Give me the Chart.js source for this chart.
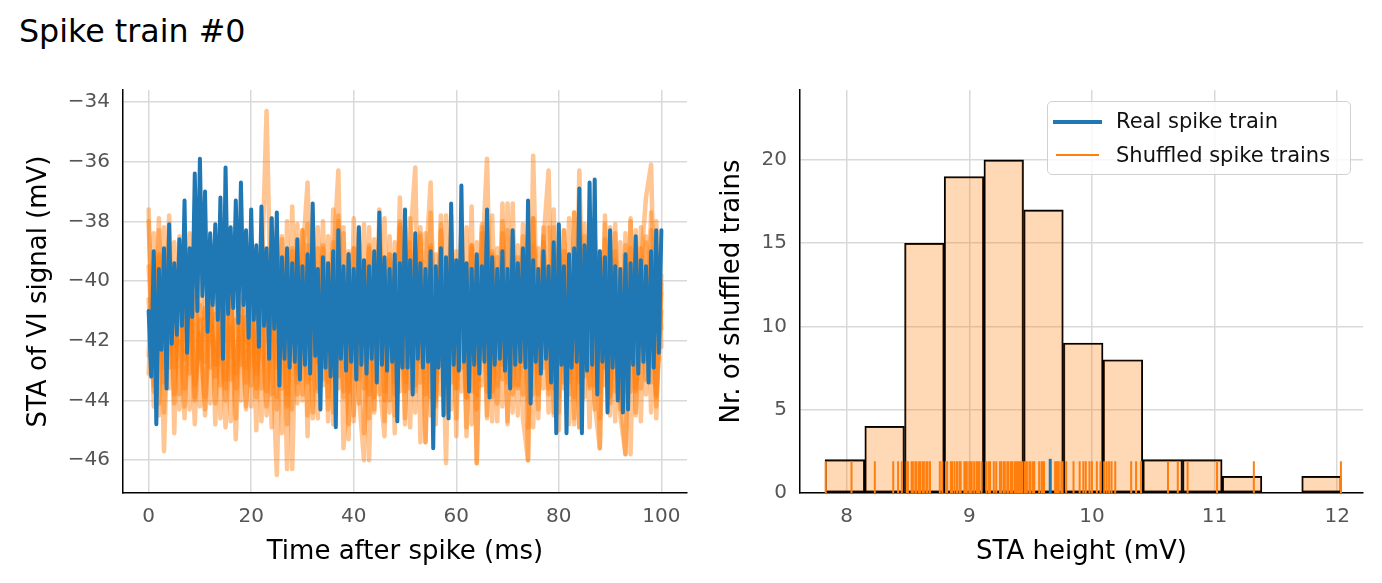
<!DOCTYPE html>
<html>
<head>
<meta charset="utf-8">
<script src="https://cdn.jsdelivr.net/npm/chart.js@4.4.0/dist/chart.umd.min.js"></script>
<style>
body { margin: 0; background: #fff; font-family: 'DejaVu Sans', sans-serif; }
#wrap { position: relative; width: 1382px; height: 583px; overflow: hidden; }
canvas { position: absolute; top: 0; }
#title { position: absolute; left: 19px; top: 16px; font-size: 31.7px; line-height: 1; color: #000; white-space: nowrap; }
#legendBox { position: absolute; left: 1047px; top: 101px; width: 302px; height: 72px; border: 1.5px solid #d0d0d0; border-radius: 5px; background: rgba(255,255,255,0.8); }
.lgText { position: absolute; font-size: 21px; line-height: 1; color: #111; white-space: nowrap; }
.lgLine { position: absolute; }
</style>
</head>
<body>
<div id="wrap">
  <div id="title">Spike train #0</div>
  <canvas id="left" width="700" height="583" style="left:0"></canvas>
  <canvas id="right" width="682" height="583" style="left:700px"></canvas>
  <div id="legendBox"></div>
  <div class="lgLine" style="left:1053px;top:120px;width:49px;height:4px;background:#1f77b4"></div>
  <div class="lgText" style="left:1116px;top:111px">Real spike train</div>
  <div class="lgLine" style="left:1056px;top:154px;width:43px;height:2px;background:#ff7f0e"></div>
  <div class="lgText" style="left:1116px;top:145px">Shuffled spike trains</div>
</div>
<script>
// tick values
const timeTicks = [0, 20, 40, 60, 80, 100]
const staTicks = [-34, -36, -38, -40, -42, -44, -46]
const heightTicks = [8, 9, 10, 11, 12]
const countTicks = [0, 5, 10, 15, 20]

// STA of the real spike train, one value every 0.5 ms (0..100 ms)
const realSta = [
 -41.0, -43.2, -39.0, -44.8, -39.6, -42.3, -38.9, -43.6, -38.1, -42.1,
 -39.4, -41.8, -38.6, -41.5, -37.3, -42.4, -38.9, -41.2, -36.4, -41.0,
 -35.9, -40.5, -37.0, -41.7, -38.4, -40.8, -38.1, -41.3, -37.2, -42.6,
 -36.2, -41.1, -38.2, -40.9, -37.3, -41.4, -36.7, -40.8, -38.3, -41.9,
 -37.6, -41.3, -38.8, -42.2, -37.5, -41.5, -38.9, -42.6, -37.9, -41.6,
 -37.7, -43.5, -39.2, -42.6, -38.9, -42.9, -39.4, -42.7, -38.6, -43.3,
 -39.5, -42.8, -39.1, -43.1, -37.4, -42.5, -39.6, -44.3, -39.2, -42.9,
 -39.4, -43.2, -39.0, -44.9, -38.3, -42.6, -39.5, -43.0, -39.1, -42.7,
 -39.6, -43.3, -38.2, -42.8, -39.3, -43.1, -39.5, -42.6, -39.0, -43.4,
 -37.7, -42.8, -39.2, -43.0, -39.6, -42.7, -39.1, -44.7, -39.4, -42.9,
 -37.6, -42.9, -39.3, -43.8, -38.4, -42.6, -39.4, -42.9, -39.6, -42.7,
 -39.0, -45.6, -39.5, -42.9, -38.9, -44.5, -39.2, -44.6, -37.4, -42.8,
 -39.3, -43.0, -36.8, -42.7, -39.4, -43.7, -39.6, -42.8, -39.1, -43.1,
 -39.5, -42.7, -37.6, -43.9, -39.2, -42.8, -39.6, -42.6, -39.0, -43.0,
 -39.6, -43.6, -38.3, -42.8, -39.4, -42.7, -38.9, -42.9, -37.3, -44.1,
 -39.3, -42.7, -39.6, -43.1, -39.0, -42.6, -39.5, -43.4, -38.7, -45.1,
 -38.1, -42.8, -39.5, -45.1, -39.1, -42.9, -38.9, -42.7, -36.9, -45.1,
 -38.8, -43.0, -36.7, -42.8, -36.6, -43.8, -39.0, -42.7, -39.2, -44.4,
 -38.3, -42.9, -39.5, -44.0, -39.6, -44.4, -39.1, -44.3, -39.4, -42.8,
 -38.5, -43.1, -39.3, -42.7, -39.5, -43.4, -39.0, -42.9, -38.3, -42.4,
 -38.3
]

// STA of some shuffled trains, one value every 1 ms (0..100 ms)
const shuffled1 = [
 -38.0, -43.5, -39.2, -45.7, -40.1, -43.8, -39.6, -44.2, -40.4, -44.8,
 -40.8, -43.9, -39.9, -44.1, -41.0, -43.6, -40.2, -45.3, -40.6, -43.4,
 -39.8, -43.9, -40.3, -34.3, -42.1, -46.5, -39.7, -44.2, -38.9, -43.1,
 -39.3, -36.7, -42.8, -44.6, -38.8, -43.4, -39.5, -36.3, -45.6, -43.2,
 -38.9, -44.1, -39.4, -46.0, -38.6, -43.3, -45.2, -39.1, -43.8, -37.2,
 -43.4, -38.7, -36.2, -45.4, -39.6, -36.7, -43.9, -39.3, -46.1, -38.4,
 -43.6, -39.1, -45.2, -38.8, -46.1, -39.6, -35.9, -43.7, -38.9, -44.2,
 -37.4, -43.8, -39.2, -44.6, -46.0, -35.8, -43.1, -38.7, -36.3, -44.4,
 -38.9, -43.6, -39.4, -44.8, -36.3, -43.2, -39.0, -44.1, -45.6, -38.6,
 -43.8, -39.3, -44.5, -45.8, -38.9, -43.7, -39.5, -37.2, -36.1, -43.9,
 -40.1
]
const shuffled2 = [
 -42.5, -38.4, -44.1, -39.1, -43.6, -38.7, -44.3, -40.2, -43.1, -39.8,
 -44.2, -40.6, -42.9, -39.5, -44.6, -40.1, -43.3, -39.9, -44.0, -41.2,
 -43.5, -40.3, -44.7, -39.2, -43.8, -39.2, -45.1, -38.0, -46.3, -39.3,
 -43.8, -38.1, -44.4, -38.9, -43.3, -38.5, -44.8, -37.8, -43.7, -39.0,
 -44.5, -38.2, -45.1, -38.8, -43.9, -38.4, -44.7, -39.1, -43.4, -38.0,
 -44.8, -38.7, -43.7, -38.2, -45.4, -38.9, -44.0, -37.8, -44.4, -39.2,
 -43.6, -38.3, -44.9, -38.8, -43.8, -38.1, -44.5, -39.0, -44.1, -37.4,
 -44.7, -38.5, -43.5, -39.1, -44.9, -37.9, -43.8, -38.7, -44.4, -38.2,
 -43.9, -39.0, -44.8, -37.7, -43.4, -38.9, -44.9, -38.4, -43.7, -39.2,
 -44.5, -38.1, -44.0, -38.8, -45.8, -38.3, -43.6, -38.7, -44.4, -38.0,
 -42.2
]
const shuffled3 = [
 -39.5, -42.8, -37.9, -43.4, -38.6, -44.1, -39.3, -42.6, -38.4, -43.9,
 -41.3, -44.5, -40.7, -43.2, -41.6, -44.0, -40.5, -43.6, -41.2, -44.3,
 -40.6, -43.1, -41.4, -44.2, -39.4, -43.9, -38.5, -44.8, -39.0, -43.4,
 -38.3, -44.5, -39.2, -43.7, -38.0, -44.3, -38.7, -43.6, -38.2, -44.8,
 -38.9, -43.3, -38.1, -44.6, -39.3, -43.8, -37.9, -44.4, -38.7, -43.7,
 -38.2, -44.9, -38.9, -43.4, -38.4, -44.5, -39.1, -43.8, -37.8, -44.3,
 -39.0, -43.7, -38.2, -44.8, -38.7, -43.5, -38.0, -44.7, -39.2, -43.3,
 -38.3, -44.4, -38.8, -43.8, -38.1, -44.9, -38.9, -43.6, -38.2, -44.5,
 -39.1, -43.4, -37.9, -44.6, -38.8, -43.9, -38.4, -44.3, -39.0, -43.5,
 -38.2, -44.7, -38.7, -43.7, -38.0, -44.4, -38.9, -43.8, -38.3, -44.2,
 -40.4
]
const shuffled4 = [
 -43.1, -39.4, -44.5, -38.2, -42.9, -40.1, -43.8, -39.7, -44.3, -40.5,
 -42.6, -40.9, -44.1, -41.1, -43.5, -40.4, -44.7, -41.3, -42.8, -40.2,
 -44.2, -40.8, -43.6, -39.9, -44.9, -38.3, -43.6, -39.2, -44.3, -38.1,
 -44.0, -38.8, -44.6, -38.2, -43.5, -39.4, -44.4, -38.0, -43.9, -39.1,
 -44.7, -38.4, -43.6, -38.9, -44.3, -38.1, -44.0, -39.3, -44.5, -38.2,
 -43.7, -39.0, -44.4, -38.5, -43.8, -38.8, -44.8, -38.1, -43.5, -39.4,
 -44.6, -38.2, -43.9, -38.9, -44.3, -38.4, -43.7, -39.1, -44.7, -38.0,
 -43.4, -39.2, -44.5, -38.5, -44.0, -38.8, -44.6, -38.2, -43.6, -39.0,
 -44.4, -38.3, -43.8, -39.1, -44.9, -38.5, -43.5, -38.8, -44.6, -38.1,
 -43.9, -39.0, -44.3, -38.4, -43.7, -39.2, -44.7, -38.5, -43.4, -39.1,
 -41.6
]
const shuffled5 = [
 -37.6, -44.2, -38.3, -42.9, -37.8, -45.1, -38.5, -43.6, -39.2, -44.0,
 -39.8, -42.7, -38.9, -44.8, -39.5, -43.3, -40.1, -44.6, -38.7, -42.9,
 -39.4, -45.0, -38.2, -43.7, -37.9, -44.3, -38.6, -46.3, -37.5, -43.8,
 -38.3, -45.2, -37.8, -43.6, -38.9, -44.7, -37.6, -43.2, -38.4, -45.3,
 -37.9, -43.8, -46.0, -38.2, -44.4, -37.6, -43.7, -38.5, -45.1, -38.1,
 -44.6, -37.9, -43.5, -38.4, -45.4, -37.7, -44.2, -38.3, -43.4, -37.8,
 -45.2, -38.6, -43.9, -37.5, -46.1, -38.2, -44.6, -37.8, -43.5, -38.4,
 -44.8, -37.4, -43.6, -38.1, -46.0, -37.9, -44.3, -38.5, -43.8, -37.6,
 -45.0, -38.3, -43.4, -37.7, -44.9, -38.1, -43.6, -38.6, -45.6, -37.8,
 -44.1, -38.4, -43.7, -45.8, -37.9, -44.5, -38.2, -43.3, -37.7, -44.6,
 -39.8
]
const shuffled6 = [
 -40.6, -43.7, -39.1, -44.4, -40.8, -42.9, -41.2, -44.6, -40.3, -43.5,
 -41.8, -44.3, -41.1, -42.8, -40.7, -44.9, -41.5, -43.1, -40.9, -44.2,
 -41.3, -43.6, -40.6, -44.5, -41.4, -42.9, -40.2, -43.8, -40.6, -44.1,
 -40.1, -43.4, -40.8, -42.7, -40.3, -43.9, -40.9, -42.6, -40.2, -43.7,
 -41.0, -42.9, -40.4, -43.8, -40.7, -42.6, -40.1, -44.0, -40.9, -42.8,
 -40.3, -43.6, -40.8, -42.7, -40.2, -43.9, -40.6, -42.8, -41.1, -43.4,
 -40.5, -42.9, -40.1, -43.7, -40.8, -42.6, -40.3, -43.9, -40.7, -42.8,
 -40.2, -43.5, -40.9, -42.7, -40.4, -43.8, -40.6, -42.9, -40.1, -43.6,
 -40.8, -42.8, -40.3, -43.9, -40.7, -42.6, -40.2, -43.5, -40.9, -42.9,
 -40.4, -43.7, -40.6, -42.8, -40.1, -43.6, -40.8, -42.7, -40.3, -43.8,
 -41.0
]
const shuffledTraces = [shuffled1, shuffled2, shuffled3, shuffled4, shuffled5, shuffled6]

// histogram of STA heights of the shuffled trains
const binCenters = [7.986, 8.310, 8.634, 8.957, 9.281, 9.605, 9.929, 10.253, 10.577, 10.900, 11.224, 11.548, 11.872]
const binCounts = [2, 4, 15, 19, 20, 17, 9, 8, 2, 2, 1, 0, 1]

// individual STA heights (rug)
const shuffledHeights = [
 7.83, 8.04,
 8.23, 8.38, 8.42, 8.45,
 8.49, 8.50, 8.53, 8.54, 8.56, 8.57, 8.59, 8.60, 8.62, 8.63, 8.65, 8.66, 8.68, 8.76, 8.78,
 8.81, 8.82, 8.85, 8.86, 8.88, 8.90, 8.92, 8.93, 8.96, 8.97, 8.98, 9.00, 9.01, 9.02, 9.04, 9.06, 9.07, 9.08, 9.10,
 9.14, 9.16, 9.17, 9.20, 9.22, 9.25, 9.26, 9.28, 9.29, 9.31, 9.32, 9.34, 9.35, 9.37, 9.38, 9.39, 9.40, 9.41, 9.42, 9.43,
 9.45, 9.46, 9.47, 9.49, 9.50, 9.52, 9.53, 9.57, 9.59, 9.60, 9.61, 9.70, 9.71, 9.72, 9.73, 9.75, 9.76,
 9.79, 9.85, 9.90, 9.93, 9.95, 9.98, 10.00, 10.04, 10.07,
 10.10, 10.12, 10.14, 10.16, 10.19, 10.32, 10.36, 10.40,
 10.62, 10.70,
 10.78, 11.02,
 11.32,
 12.03
]
const realHeight = 9.66

Chart.defaults.font.family = "'DejaVu Sans', sans-serif"

const fixTicks = vals => scale => { scale.ticks = vals.map(v => ({ value: v })) }
const minusFmt = v => v < 0 ? '\u2212' + Math.abs(v) : String(v)
const gridOpts = { color: '#d9d9d9', lineWidth: 1.5, drawTicks: false }
const borderOpts = { color: '#000', width: 1.5 }
const tickOpts = (pad) => ({ padding: pad, color: '#555', font: { size: 20 }, autoSkip: false, maxRotation: 0, callback: minusFmt })
const titleOpts = (text, pad) => ({ display: true, text: text, color: '#000', font: { size: 26 }, padding: pad })

// left: STA traces
const orangeSets = shuffledTraces.map(tr => ({
	data: tr.map((v, i) => ({ x: i, y: v })),
	borderColor: 'rgba(255,127,14,0.45)',
	borderWidth: 4.5,
	order: 1
}))

new Chart(document.getElementById('left'), {
	type: 'line',
	data: {
		datasets: [{
			data: realSta.map((v, i) => ({ x: i * 0.5, y: v })),
			borderColor: '#1f77b4',
			borderWidth: 4,
			order: 0
		}].concat(orangeSets)
	},
	options: {
		responsive: false,
		animation: false,
		devicePixelRatio: 1,
		layout: { padding: { top: 90, right: 13, left: 0, bottom: 0 } },
		plugins: { legend: { display: false }, tooltip: { enabled: false } },
		elements: {
			point: { radius: 0 },
			line: { tension: 0, borderJoinStyle: 'round', borderCapStyle: 'round' }
		},
		scales: {
			x: {
				type: 'linear', min: -5, max: 105,
				afterFit: s => { s.height = 90 },
				afterBuildTicks: fixTicks(timeTicks),
				grid: gridOpts, border: borderOpts,
				ticks: tickOpts(12),
				title: titleOpts('Time after spike (ms)', { top: 0, bottom: 15 })
			},
			y: {
				type: 'linear', min: -47.1, max: -33.6,
				afterFit: s => { s.width = 123 },
				afterBuildTicks: fixTicks(staTicks),
				grid: gridOpts, border: borderOpts,
				ticks: tickOpts(13),
				title: titleOpts('STA of VI signal (mV)', { top: 24, bottom: 0 })
			}
		}
	}
})

// right: histogram + rug
const rugPoints = []
shuffledHeights.forEach(h => {
	rugPoints.push({ x: h, y: 0 }, { x: h, y: 1.9 }, { x: h, y: null })
})

new Chart(document.getElementById('right'), {
	type: 'bar',
	data: {
		datasets: [{
			type: 'line',
			data: [{ x: realHeight, y: 0 }, { x: realHeight, y: 2.05 }],
			borderColor: '#1f77b4', borderWidth: 3, pointRadius: 0, order: 0
		}, {
			type: 'line',
			data: rugPoints, spanGaps: false,
			borderColor: '#ff7f0e', borderWidth: 2, pointRadius: 0, order: 1
		}, {
			type: 'bar',
			data: binCenters.map((c, i) => ({ x: c, y: binCounts[i] })),
			backgroundColor: 'rgba(255,127,14,0.3)',
			borderColor: '#000', borderWidth: 1.4, borderSkipped: false,
			barPercentage: 1, categoryPercentage: 1, order: 2
		}]
	},
	options: {
		responsive: false,
		animation: false,
		devicePixelRatio: 1,
		layout: { padding: { top: 90, right: 19, left: 0, bottom: 0 } },
		plugins: { legend: { display: false }, tooltip: { enabled: false } },
		scales: {
			x: {
				type: 'linear', min: 7.62, max: 12.21, offset: false,
				afterFit: s => { s.height = 90 },
				afterBuildTicks: fixTicks(heightTicks),
				grid: Object.assign({ offset: false }, gridOpts), border: borderOpts,
				ticks: tickOpts(12),
				title: titleOpts('STA height (mV)', { top: 0, bottom: 15 })
			},
			y: {
				type: 'linear', min: 0, max: 24.2,
				afterFit: s => { s.width = 100 },
				afterBuildTicks: fixTicks(countTicks),
				grid: gridOpts, border: borderOpts,
				ticks: tickOpts(13),
				title: titleOpts('Nr. of shuffled trains', { top: 17, bottom: 0 })
			}
		}
	}
})
</script>
</body>
</html>
